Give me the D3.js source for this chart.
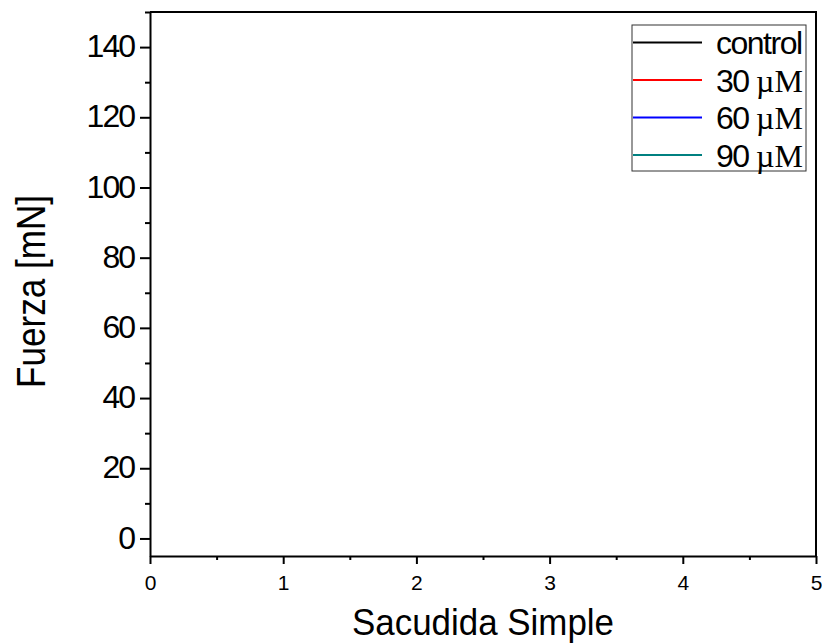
<!DOCTYPE html>
<html>
<head>
<meta charset="utf-8">
<script src="https://cdn.jsdelivr.net/npm/d3@7"></script>
<style>
  body { margin: 0; background: #fff; }
  svg { display: block; }
</style>
</head>
<body>
<div id="chart"></div>
<script>
// series shown in the legend (the plot itself has no data points)
const seriesNames = ["control", "30", "60", "90"];
const seriesUnits = ["", "\u00b5M", "\u00b5M", "\u00b5M"];
const seriesColors = ["#000000", "#ff0000", "#0000ff", "#008080"];
const seriesValues = [[], [], [], []];

const xDomain = [0, 5];
const yDomain = [-5, 150];
const xMajorTicks = [0, 1, 2, 3, 4, 5];
const xMinorTicks = [0.5, 1.5, 2.5, 3.5, 4.5];
const yMajorTicks = [0, 20, 40, 60, 80, 100, 120, 140];
const yMinorTicks = [10, 30, 50, 70, 90, 110, 130, 150];

const W = 822, H = 643;
const margin = {top: 12, right: 6, bottom: 87, left: 150};
const width = W - margin.left - margin.right;
const height = H - margin.top - margin.bottom;

const svg = d3.select("#chart").append("svg")
  .attr("width", W).attr("height", H)
  .style("font-family", "'Liberation Sans', Arial, sans-serif");

const g = svg.append("g")
  .attr("transform", "translate(" + margin.left + "," + margin.top + ")");

const x = d3.scaleLinear().domain(xDomain).range([0, width]);
const y = d3.scaleLinear().domain(yDomain).range([height, 0]);

// frame top + right
g.append("path")
  .attr("d", "M0,0H" + width + "V" + height)
  .attr("fill", "none").attr("stroke", "#000").attr("stroke-width", 2);

// y axis
g.append("g")
  .call(d3.axisLeft(y).tickValues(yMinorTicks).tickSize(5).tickFormat("").tickSizeOuter(0))
  .call(a => a.select(".domain").remove())
  .selectAll("line").attr("stroke-width", 2);
const yAx = g.append("g")
  .call(d3.axisLeft(y).tickValues(yMajorTicks).tickFormat(d3.format("d"))
    .tickSize(10).tickPadding(6).tickSizeOuter(0));
yAx.select(".domain").attr("stroke-width", 2);
yAx.selectAll("line").attr("stroke-width", 2);
yAx.selectAll("text")
  .attr("font-size", 32).attr("font-family", "'Liberation Sans', Arial, sans-serif")
  .attr("letter-spacing", -2).attr("dy", "0.3em").attr("fill", "#000");

// x axis
g.append("g")
  .attr("transform", "translate(0," + height + ")")
  .call(d3.axisBottom(x).tickValues(xMinorTicks).tickSize(4).tickFormat("").tickSizeOuter(0))
  .call(a => a.select(".domain").remove())
  .selectAll("line").attr("stroke-width", 2);
const xAx = g.append("g")
  .attr("transform", "translate(0," + height + ")")
  .call(d3.axisBottom(x).tickValues(xMajorTicks).tickFormat(d3.format("d"))
    .tickSize(8).tickPadding(11).tickSizeOuter(0));
xAx.select(".domain").attr("stroke-width", 2);
xAx.selectAll("line").attr("stroke-width", 2);
xAx.selectAll("text")
  .attr("font-size", 21).attr("font-family", "'Liberation Sans', Arial, sans-serif")
  .attr("fill", "#000");

// series lines (empty in the reference)
const line = d3.line().x(d => x(d[0])).y(d => y(d[1]));
seriesValues.forEach((vals, i) => {
  g.append("path").datum(vals)
    .attr("d", line).attr("fill", "none")
    .attr("stroke", seriesColors[i]).attr("stroke-width", 2);
});

// axis titles
svg.append("text")
  .attr("x", margin.left + width / 2).attr("y", 635)
  .attr("text-anchor", "middle")
  .attr("font-size", 37)
  .attr("textLength", 262).attr("lengthAdjust", "spacingAndGlyphs")
  .text("Sacudida Simple");

svg.append("text")
  .attr("transform", "translate(45,291.5) rotate(-90)")
  .attr("text-anchor", "middle")
  .attr("font-size", 41)
  .attr("textLength", 193).attr("lengthAdjust", "spacingAndGlyphs")
  .text("Fuerza [mN]");

// legend
const legX = 632, legY = 25, legW = 174, legH = 146, rowH = 37.5;
svg.append("rect")
  .attr("x", legX).attr("y", legY).attr("width", legW).attr("height", legH)
  .attr("fill", "#fff").attr("stroke", "#333").attr("stroke-width", 1);

seriesNames.forEach((name, i) => {
  const cy = legY + 17.5 + i * rowH;
  svg.append("line")
    .attr("x1", legX + 1).attr("x2", legX + 70)
    .attr("y1", cy).attr("y2", cy)
    .attr("stroke", seriesColors[i]).attr("stroke-width", 2);
  const t = svg.append("text")
    .attr("x", 716).attr("y", cy + 11.5)
    .attr("font-size", 32).attr("fill", "#000");
  if (seriesUnits[i]) {
    t.append("tspan").attr("letter-spacing", -1.5).text(name + " ");
    t.append("tspan")
      .attr("font-family", "'Liberation Serif', 'Times New Roman', serif")
      .text(seriesUnits[i]);
  } else {
    t.attr("letter-spacing", -1.5).text(name);
  }
});
</script>
</body>
</html>
